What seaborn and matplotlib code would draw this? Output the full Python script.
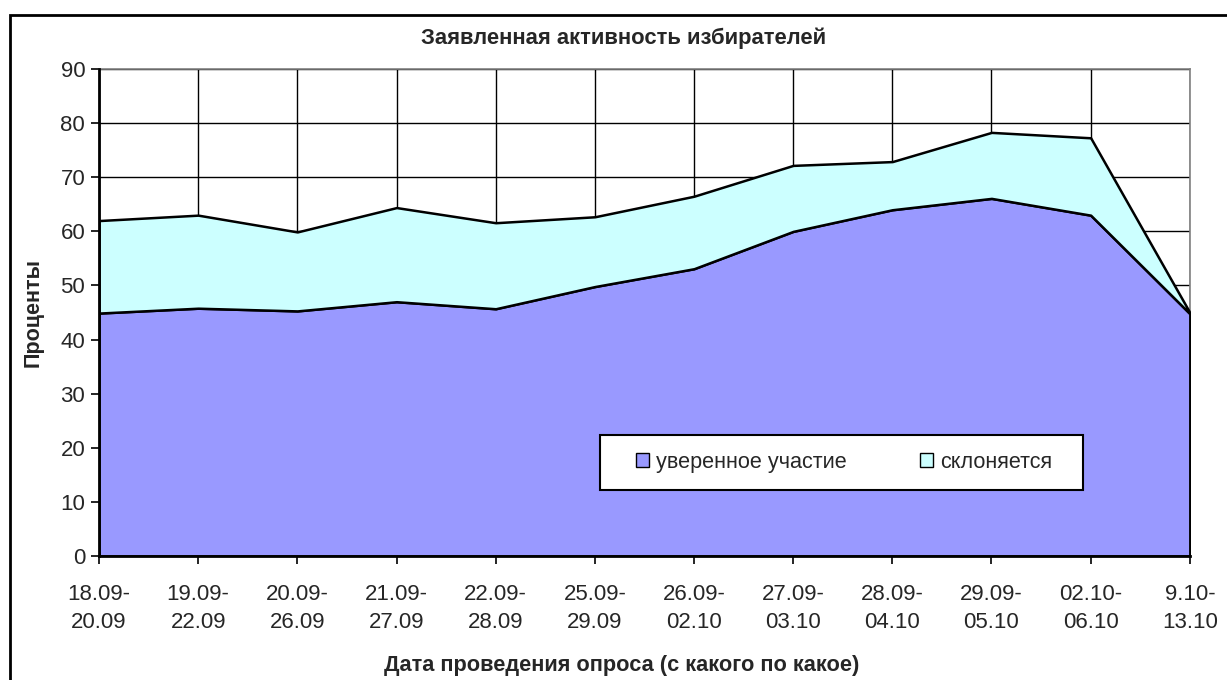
import numpy as np
import pandas as pd
import matplotlib as mpl
mpl.use("Agg")
import matplotlib.pyplot as plt
import seaborn as sns
from matplotlib.patches import Rectangle, Patch

periods = ["18.09-\n20.09", "19.09-\n22.09", "20.09-\n26.09", "21.09-\n27.09",
           "22.09-\n28.09", "25.09-\n29.09", "26.09-\n02.10", "27.09-\n03.10",
           "28.09-\n04.10", "29.09-\n05.10", "02.10-\n06.10", "9.10-\n13.10"]
confident = [44.9, 45.8, 45.3, 47.0, 45.7, 49.8, 53.1, 60.0, 64.0, 66.1, 63.0, 44.8]
leaning = [17.1, 17.2, 14.6, 17.4, 15.9, 12.9, 13.4, 12.2, 8.9, 12.2, 14.3, 0.2]

df = pd.DataFrame({"period": periods, "уверенное участие": confident, "склоняется": leaning})

sns.set_theme(style="white")
plt.rcParams['font.family'] = ['Liberation Sans', 'DejaVu Sans']

col_conf = "#9999FF"
col_lean = "#CCFFFF"

fig = plt.figure(figsize=(12.27, 6.8), dpi=100)
ax = fig.add_axes([0.0807, 0.1824, 0.889, 0.716])

x = np.arange(len(df))
ax.stackplot(x, df["уверенное участие"], df["склоняется"],
             colors=[col_conf, col_lean], edgecolor="black", linewidth=1.8, zorder=3)

ax.set_xlim(0, len(df) - 1)
ax.set_ylim(0, 90)
ax.set_yticks(range(0, 91, 10))
ax.set_xticks(x)
ax.set_xticklabels(df["period"], fontsize=16)
for t in ax.get_xticklabels():
    t.set_linespacing(1.45)
ax.tick_params(axis="y", labelsize=16)
ax.tick_params(axis="both", direction="out", length=6, width=1.2, color="black",
               bottom=True, left=True, pad=4)
ax.tick_params(axis="x", pad=14)
ax.grid(True, color="black", linewidth=1)
ax.set_axisbelow(True)

for s in ["top", "right"]:
    ax.spines[s].set_color("#808080")
    ax.spines[s].set_linewidth(1.2)
for s in ["left", "bottom"]:
    ax.spines[s].set_color("black")
    ax.spines[s].set_linewidth(2)
    ax.spines[s].set_zorder(5)

ax.set_ylabel("Проценты", fontsize=15.5, fontweight="bold", labelpad=12)
fig.text(622 / 1227, 1 - 665 / 680, "Дата проведения опроса (с какого по какое)",
         ha="center", va="center", fontsize=15.7, fontweight="bold")
fig.text(624 / 1227, 1 - 38 / 680, "Заявленная активность избирателей", ha="center",
         va="center", fontsize=15.8, fontweight="bold")

# legend box
ax.add_patch(Rectangle((0.459, 0.136), 0.443, 0.112, transform=ax.transAxes,
                       facecolor="white", edgecolor="black", linewidth=1.5, zorder=9))
handles = [Patch(facecolor=col_conf, edgecolor="black", label="уверенное участие"),
           Patch(facecolor=col_lean, edgecolor="black", label="склоняется")]
leg = ax.legend(handles=handles, loc="center", bbox_to_anchor=(0.683, 0.192),
                ncol=2, fontsize=15.6, frameon=False,
                borderaxespad=0, handlelength=0.6, handleheight=0.6, handletextpad=0.3,
                borderpad=0, columnspacing=3.4)
leg.set_zorder(10)

fig.patches.append(Rectangle((10 / 1227, -0.1), 1.2, (680 - 15) / 680 + 0.1,
                             transform=fig.transFigure, fill=False,
                             edgecolor="black", linewidth=2))

fig.savefig("out.png", dpi=100)
